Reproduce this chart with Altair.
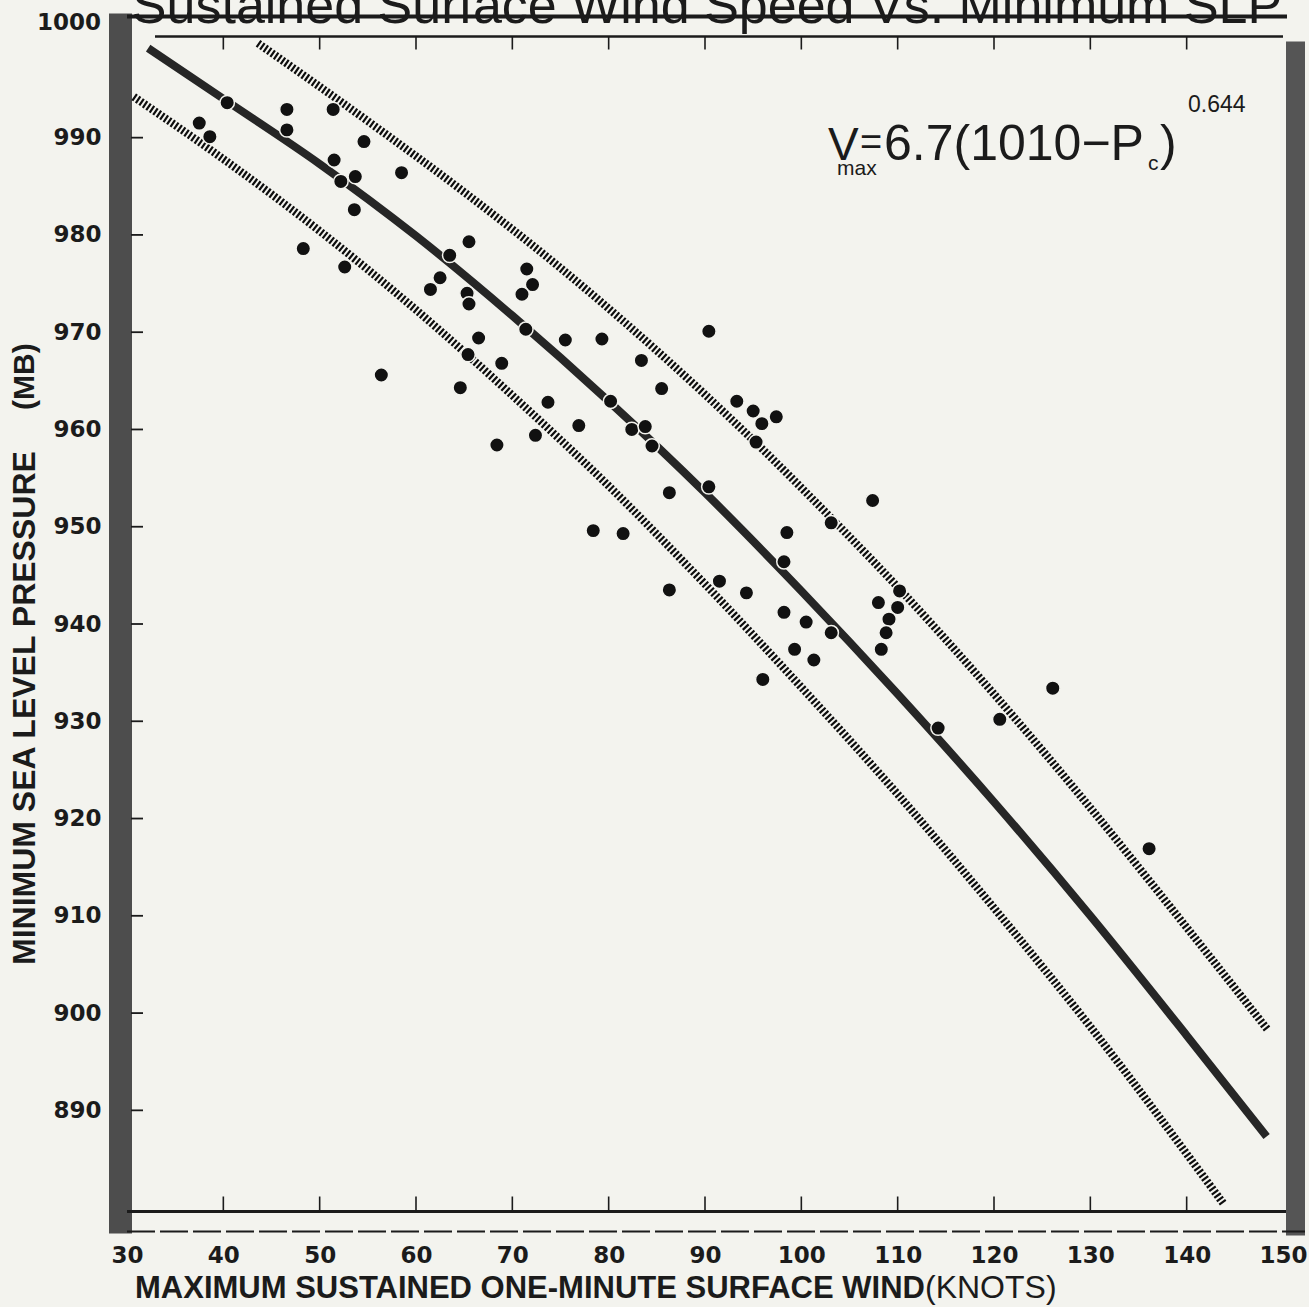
import altair as alt
import pandas as pd

# ---------------- data ----------------
wind = [40.4, 46.6, 51.4, 37.5, 38.6, 46.6, 54.6, 51.5, 53.7, 52.2,
        58.5, 53.6, 65.5, 63.5, 48.3, 52.6, 71.5, 62.5, 72.1, 61.5,
        65.3, 65.5, 71.0, 71.4, 66.5, 75.5, 79.3, 65.4, 68.9, 56.4,
        64.6, 80.2, 73.7, 76.9, 72.4, 68.4, 82.4, 83.8, 90.4, 83.4,
        85.5, 93.3, 95.0, 97.4, 95.9, 95.3, 84.5, 90.4, 86.3, 107.4,
        103.1, 98.5, 78.4, 81.5, 98.2, 91.5, 94.3, 86.3, 110.2, 108.0,
        110.0, 98.2, 100.5, 109.1, 108.8, 103.1, 99.3, 108.3, 101.3, 96.0,
        114.2, 120.6, 126.1, 136.1]
pressure = [993.6, 992.9, 992.9, 991.5, 990.1, 990.8, 989.6, 987.7, 986.0, 985.5,
            986.4, 982.6, 979.3, 977.9, 978.6, 976.7, 976.5, 975.6, 974.9, 974.4,
            974.0, 972.9, 973.9, 970.3, 969.4, 969.2, 969.3, 967.7, 966.8, 965.6,
            964.3, 962.9, 962.8, 960.4, 959.4, 958.4, 960.0, 960.3, 970.1, 967.1,
            964.2, 962.9, 961.9, 961.3, 960.6, 958.7, 958.3, 954.1, 953.5, 952.7,
            950.4, 949.4, 949.6, 949.3, 946.4, 944.4, 943.2, 943.5, 943.4, 942.2,
            941.7, 941.2, 940.2, 940.5, 939.1, 939.1, 937.4, 937.4, 936.3, 934.3,
            929.3, 930.2, 933.4, 916.9]

fit_wind = [32.2, 40, 50, 60, 70, 80, 90, 100, 110, 120, 130, 140, 148.3]
fit_pres = [999.2, 994.0, 987.3, 979.9, 971.7, 962.9, 953.5, 943.4, 932.8, 921.7, 910.0, 897.7, 887.3]

upper_wind = [43.6, 55, 65, 75, 85, 95, 103.1, 110, 120, 130, 140, 148.4]
upper_pres = [999.7, 991.7, 984.4, 976.6, 968.1, 958.9, 950.9, 943.8, 932.8, 921.1, 908.8, 898.3]

lower_wind = [30.7, 40, 50, 60, 70, 80, 90, 100, 110, 120, 130, 143.9]
lower_pres = [994.2, 987.8, 980.4, 972.3, 963.5, 954.2, 944.1, 933.5, 922.5, 910.8, 898.6, 880.3]

x_ticks = [30, 40, 50, 60, 70, 80, 90, 100, 110, 120, 130, 140, 150]
inner_x_ticks = [40, 50, 60, 70, 80, 90, 100, 110, 120, 130, 140]
y_ticks = [890, 900, 910, 920, 930, 940, 950, 960, 970, 980, 990]

TITLE = "Sustained Surface Wind Speed Vs. Minimum SLP"
X_TITLE = "MAXIMUM SUSTAINED ONE-MINUTE SURFACE WIND"
X_UNIT = "(KNOTS)"
Y_TITLE = "MINIMUM SEA LEVEL PRESSURE"
Y_UNIT = "(MB)"

# ---------------- layout ----------------
W, H = 1156, 1175
PAPER = "#f3f3ee"
INK = "#1b1b1b"
XDOM = [30, 150]
YDOM = [879.6, 1000.4]

xs = alt.Scale(domain=XDOM, nice=False, zero=False)
ys = alt.Scale(domain=YDOM, nice=False, zero=False)

pts = pd.DataFrame({"wind": wind, "pressure": pressure})
fit = pd.DataFrame({"wind": fit_wind, "pressure": fit_pres, "o": range(len(fit_wind))})
up = pd.DataFrame({"wind": upper_wind, "pressure": upper_pres, "o": range(len(upper_wind))})
lo = pd.DataFrame({"wind": lower_wind, "pressure": lower_pres, "o": range(len(lower_wind))})
one = pd.DataFrame({"a": [0]})

base_axes = alt.Chart(pd.DataFrame({"wind": [30, 150], "pressure": [880, 1000]})).mark_point(opacity=0).encode(
    x=alt.X("wind:Q", scale=xs, axis=alt.Axis(
        values=x_ticks, title=None, domain=False, ticks=False, tickSize=0, grid=False,
        labelPadding=33, labelFont="DejaVu Sans", labelFontWeight="bold", labelFontSize=23,
        labelColor=INK, labelFlush=False, labelOverlap=False)),
    y=alt.Y("pressure:Q", scale=ys, axis=alt.Axis(
        values=y_ticks, title=None, domain=False, ticks=False, tickSize=0, grid=False,
        labelPadding=26, labelFont="DejaVu Sans", labelFontWeight="bold", labelFontSize=23,
        labelColor=INK, labelOverlap=False)),
)

# frame decorations
left_band = alt.Chart(one).mark_rect(color="#4d4d4d").encode(
    x=alt.value(-18), x2=alt.value(5), y=alt.value(-23), y2=alt.value(1197))
right_band = alt.Chart(one).mark_rect(color="#555555").encode(
    x=alt.value(1159), x2=alt.value(1178), y=alt.value(5), y2=alt.value(1199))
top_outer = alt.Chart(one).mark_rule(color=INK, strokeWidth=4).encode(
    x=alt.value(0), x2=alt.value(1160), y=alt.value(-20))
top_inner = alt.Chart(one).mark_rule(color=INK, strokeWidth=2.5).encode(
    x=alt.value(28), x2=alt.value(1156), y=alt.value(0))
bot_inner = alt.Chart(one).mark_rule(color=INK, strokeWidth=3).encode(
    x=alt.value(0), x2=alt.value(1159), y=alt.value(1175))
bot_outer = alt.Chart(one).mark_rule(color=INK, strokeWidth=2, strokeDash=[28, 5]).encode(
    x=alt.value(0), x2=alt.value(1178), y=alt.value(1195))

tick_df = pd.DataFrame({"wind": inner_x_ticks})
top_ticks = alt.Chart(tick_df).mark_rule(color=INK, strokeWidth=1.6).encode(
    x=alt.X("wind:Q", scale=xs), y=alt.value(0), y2=alt.value(13))
bot_ticks = alt.Chart(tick_df).mark_rule(color=INK, strokeWidth=1.6).encode(
    x=alt.X("wind:Q", scale=xs), y=alt.value(1160), y2=alt.value(1175))
y_tick_df = pd.DataFrame({"pressure": y_ticks})
left_ticks = alt.Chart(y_tick_df).mark_rule(color=INK, strokeWidth=1.8).encode(
    y=alt.Y("pressure:Q", scale=ys), x=alt.value(4), x2=alt.value(16))

# curves
upper_line = alt.Chart(up).mark_line(color="#0d0d0d", strokeWidth=8, strokeDash=[2.2, 2.0],
                                     strokeCap="butt", interpolate="monotone").encode(
    x=alt.X("wind:Q", scale=xs), y=alt.Y("pressure:Q", scale=ys), order="o:Q")
lower_line = alt.Chart(lo).mark_line(color="#0d0d0d", strokeWidth=8, strokeDash=[2.2, 2.0],
                                     strokeCap="butt", interpolate="monotone").encode(
    x=alt.X("wind:Q", scale=xs), y=alt.Y("pressure:Q", scale=ys), order="o:Q")
fit_line = alt.Chart(fit).mark_line(color="#262626", strokeWidth=8, interpolate="monotone").encode(
    x=alt.X("wind:Q", scale=xs), y=alt.Y("pressure:Q", scale=ys), order="o:Q")

points = alt.Chart(pts).mark_point(filled=True, fill="#111111", stroke=PAPER, strokeWidth=1.5,
                                   size=210, opacity=1).encode(
    x=alt.X("wind:Q", scale=xs), y=alt.Y("pressure:Q", scale=ys))

# texts
def txt(t, x, y, size, weight="normal", align="left", baseline="alphabetic", angle=0,
        font="Liberation Sans"):
    return alt.Chart(one).mark_text(text=t, fontSize=size, fontWeight=weight, align=align,
                                    baseline=baseline, angle=angle, font=font, color=INK).encode(
        x=alt.value(x), y=alt.value(y))

texts = [
    txt(TITLE, 580, -13.5, 52, align="center"),
    txt("1000", -26, -13.5, 23, weight="bold", align="right", baseline="middle", font="DejaVu Sans"),
    txt(X_TITLE, 8, 1261.5, 31, weight="bold"),
    txt(X_UNIT, 798, 1261.5, 32),
    txt(Y_TITLE, -102, 928.5, 32, weight="bold", baseline="middle", angle=270),
    txt(Y_UNIT, -102, 373.5, 30, weight="bold", baseline="middle", angle=270),
    txt("V", 701, 123.5, 46),
    txt("max", 710, 138, 21),
    txt("=", 733, 118, 38),
    txt("6.7(1010\u2212P", 757, 123.5, 50),
    txt("c", 1021, 133, 21),
    txt(")", 1033, 123.5, 50),
    txt("0.644", 1061, 75.5, 23),
]

chart = alt.layer(
    base_axes, left_band, right_band, top_outer, top_inner, bot_inner, bot_outer,
    top_ticks, bot_ticks, left_ticks,
    upper_line, lower_line, fit_line, points, *texts
).properties(
    width=W, height=H,
    autosize=alt.AutoSizeParams(type="none"),
    padding={"left": 127, "top": 36.5, "right": 26, "bottom": 95.5},
    background=PAPER,
).configure_view(stroke=None)

chart.save("out.html", embed_options={"renderer": "svg", "actions": False})
